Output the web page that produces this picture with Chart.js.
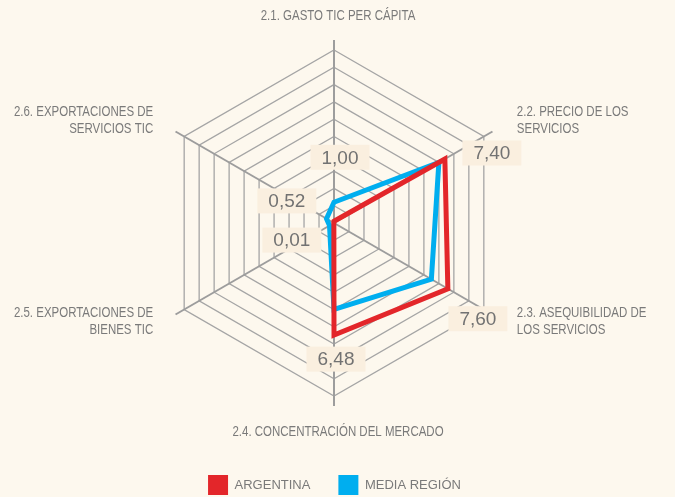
<!DOCTYPE html>
<html><head><meta charset="utf-8">
<script src="https://cdn.jsdelivr.net/npm/chart.js@4/dist/chart.umd.min.js"></script>
<style>html,body{margin:0;padding:0;background:#fdf8ee;} canvas{display:block}</style>
</head><body>
<canvas id="c" width="675" height="497"></canvas>
<script>
// ---- data ----
const categories = [
  ['2.1. GASTO TIC PER CÁPITA'],
  ['2.2. PRECIO DE LOS', 'SERVICIOS'],
  ['2.3. ASEQUIBILIDAD DE', 'LOS SERVICIOS'],
  ['2.4. CONCENTRACIÓN DEL MERCADO'],
  ['2.5. EXPORTACIONES DE', 'BIENES TIC'],
  ['2.6. EXPORTACIONES DE', 'SERVICIOS TIC']
];
const seriesNames = ['ARGENTINA', 'MEDIA REGIÓN'];
const argentina = [0.1, 7.4, 7.6, 6.48, 0.01, 0.01];
const mediaRegion = [1.2, 7.0, 6.5, 5.0, 0.3, 0.5];
const valueLabels = ['1,00', '7,40', '7,60', '6,48', '0,01', '0,52'];
const scaleMin = 0, scaleMax = 10, scaleStep = 1;

// ---- styling / placement (not data) ----
const TEXT = '#7a7a7a';
const labelOffsets = [[6, -64], [47, -6], [30, 30], [2, 24], [-42, 17], [-47, -22]];
// point label placement relative to outer vertex: [dx, dy first line, align]
const catPlacement = [
  [4, -34, 'center'], [33, -24, 'left'], [33, 3.5, 'left'],
  [4, 36, 'center'], [-31, 3.5, 'right'], [-31, -24, 'right']
];
const NARROW = 0.82;

const bgPlugin = {
  id: 'bg',
  beforeDraw(chart) {
    const c = chart.ctx; c.save(); c.fillStyle = '#fdf8ee';
    c.fillRect(0, 0, chart.width, chart.height); c.restore();
  }
};

const axisPlugin = {
  id: 'axes',
  beforeDatasetsDraw(chart) {
    const s = chart.scales.r, c = chart.ctx;
    c.save();
    c.strokeStyle = '#9d9d9d'; c.lineWidth = 2;
    for (let i = 0; i < categories.length; i++) {
      const p = s.getPointPosition(i, s.drawingArea + 10);
      c.beginPath(); c.moveTo(s.xCenter, s.yCenter); c.lineTo(p.x, p.y); c.stroke();
    }
    c.restore();
  },
  afterDatasetsDraw(chart) {
    const s = chart.scales.r, c = chart.ctx;
    c.save();
    // value labels
    c.font = '19px "Liberation Sans", Arial, sans-serif';
    c.textAlign = 'center'; c.textBaseline = 'middle';
    valueLabels.forEach((t, i) => {
      const p = s.getPointPosition(i, s.getDistanceFromCenterForValue(argentina[i]));
      const x = p.x + labelOffsets[i][0], y = p.y + labelOffsets[i][1];
      const w = c.measureText(t).width + 22, h = 25;
      c.fillStyle = '#faefdf';
      c.fillRect(x - w / 2, y - h / 2, w, h);
      c.fillStyle = '#727272';
      c.fillText(t, x, y + 1);
    });
    // category labels (horizontally condensed)
    c.font = '14px "Liberation Sans", Arial, sans-serif';
    c.fillStyle = TEXT; c.textBaseline = 'middle';
    categories.forEach((lines, i) => {
      const v = s.getPointPosition(i, s.drawingArea);
      const [dx, dy, al] = catPlacement[i];
      c.textAlign = al;
      lines.forEach((ln, k) => {
        c.save();
        c.translate(v.x + dx, v.y + dy + k * 16.7);
        c.scale(NARROW, 1);
        c.fillText(ln, 0, 0);
        c.restore();
      });
    });
    c.restore();
  }
};

new Chart(document.getElementById('c'), {
  type: 'radar',
  data: {
    labels: categories,
    datasets: [
      { label: seriesNames[0], data: argentina, borderColor: '#e3262a', backgroundColor: '#e3262a',
        borderWidth: 5, fill: false, pointRadius: 0, borderJoinStyle: 'miter', tension: 0 },
      { label: seriesNames[1], data: mediaRegion, borderColor: '#00aeef', backgroundColor: '#00aeef',
        borderWidth: 5, fill: false, pointRadius: 0, borderJoinStyle: 'miter', tension: 0 }
    ]
  },
  options: {
    responsive: false, animation: false, devicePixelRatio: 1,
    layout: { padding: { top: -9, bottom: -8, left: 161, right: 167 } },
    scales: {
      r: {
        min: scaleMin, max: scaleMax,
        ticks: { display: false, stepSize: scaleStep },
        grid: { color: '#a5a5a5', lineWidth: 1.3 },
        angleLines: { display: false },
        pointLabels: { display: false }
      }
    },
    plugins: {
      tooltip: { enabled: false },
      legend: {
        position: 'bottom',
        labels: {
          boxWidth: 20, boxHeight: 20, padding: 28, color: TEXT,
          font: { family: '"Liberation Sans", Arial, sans-serif', size: 13 },
          generateLabels(chart) {
            return Chart.defaults.plugins.legend.labels.generateLabels(chart).map(l => Object.assign(l, { lineWidth: 0 }));
          }
        }
      }
    }
  },
  plugins: [bgPlugin, axisPlugin]
});
</script>
</body></html>
